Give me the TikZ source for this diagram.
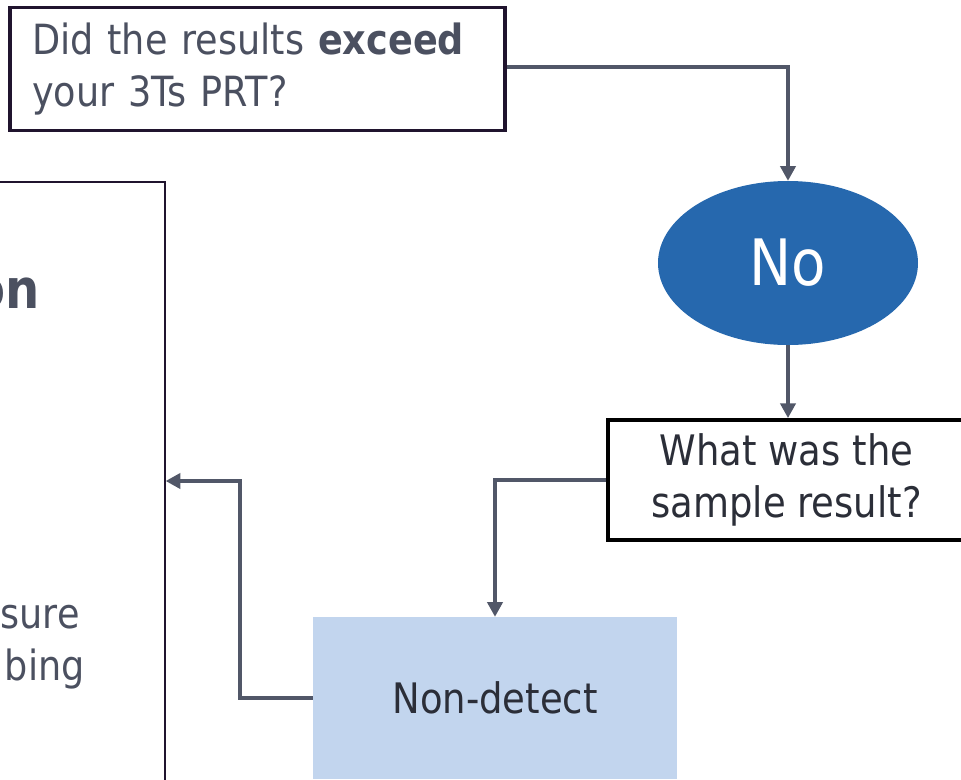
\documentclass[tikz,border=0pt]{standalone}
\usepackage{fontspec}
\setmainfont{DejaVu Sans}[FakeStretch=0.88]
\usepackage{tikz}
\usetikzlibrary{arrows.meta,shapes.geometric}

\definecolor{inkgray}{HTML}{4B5060}
\definecolor{linegray}{HTML}{515768}
\definecolor{boxdark}{HTML}{20142E}
\definecolor{noblue}{HTML}{2668AE}
\definecolor{ndblue}{HTML}{C2D5EE}
\definecolor{textdark}{HTML}{2B2E38}

\begin{document}
\begin{tikzpicture}[
  x=0.75pt, y=-0.75pt,
  flow/.style={draw=linegray, line width=2.3pt, -{Triangle[length=11pt,width=11.5pt]}},
  question/.style={draw, line width=2.4pt, inner sep=0pt, align=center},
  ]
  \useasboundingbox (0,0) rectangle (961,779);
  \clip (0,0) rectangle (961,779);

  % the boxes
  \node[question, draw=boxdark, minimum width=371.25pt, minimum height=92.25pt,
        text width=338pt, align=left, text=inkgray,
        font=\fontsize{31.2}{39}\selectfont] (q1) at (257.5,69)
        {Did the results \textbf{exceed} your 3Ts PRT?};
  \node[ellipse, fill=noblue, minimum width=195pt, minimum height=123pt, inner sep=0pt,
        text=white, font=\fontsize{48}{54}\selectfont] (no) at (788,263) {No};
  \node[question, draw=black, line width=3pt, minimum width=267.75pt, minimum height=90pt,
        text=textdark, font=\fontsize{31.5}{39}\selectfont] (q2) at (786.5,480)
        {What was the\\sample result?};
  \node[fill=ndblue, minimum width=273pt, minimum height=121.5pt, inner sep=0pt,
        text=textdark, font=\fontsize{31.5}{36}\selectfont] (nd) at (495,698)
        {\raisebox{-3pt}{Non-detect}};
  \node[draw=boxdark, line width=1.1pt, minimum width=348.75pt, minimum height=538.5pt]
        (big) at (-67.5,541) {};

  % text of the left box
  \node[anchor=base east, inner sep=0pt, text=inkgray, font=\fontsize{41}{48}\bfseries] (t1) at (40,308) {on};
  \node[anchor=base east, inner sep=0pt, text=inkgray, font=\fontsize{31.2}{39}\selectfont] (t2) at (80,628) {sure};
  \node[anchor=base east, inner sep=0pt, text=inkgray, font=\fontsize{31.2}{39}\selectfont] (t3) at (85,680) {bing};

  % connectors
  \coordinate (turn) at (240,481);
  \draw[flow] (q1.east |- 0,67) -| (no.north);
  \draw[flow] (no.south) -- (no.south |- q2.north);
  \draw[flow] (q2.west) -| (nd.north);
  \draw[flow] (nd.west) -| (turn) -- (big.east |- turn);
\end{tikzpicture}
\end{document}
